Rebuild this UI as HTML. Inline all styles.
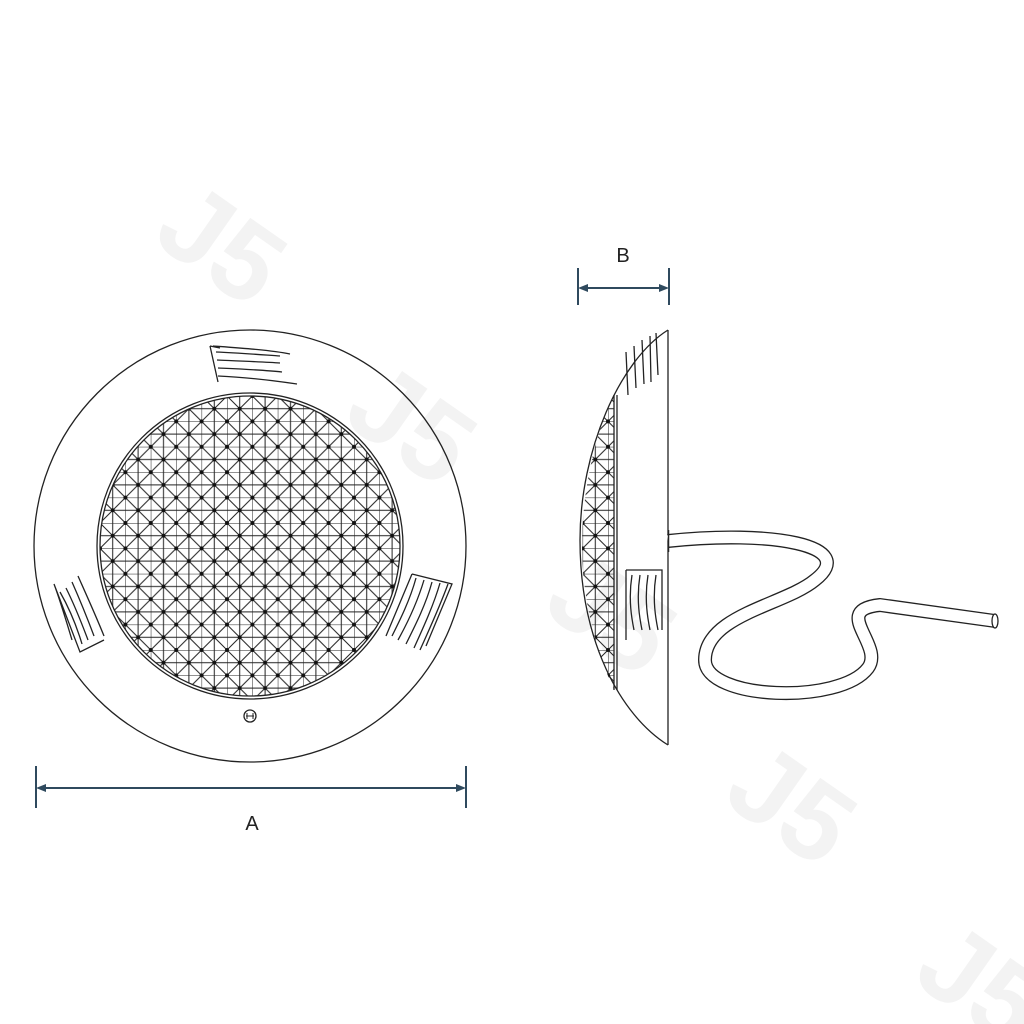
<!DOCTYPE html>
<html><head><style>body{margin:0;background:#fff}svg{display:block}</style></head><body>
<svg width="1024" height="1024" viewBox="0 0 1024 1024" xmlns="http://www.w3.org/2000/svg">
<defs>
<pattern id="g" x="100" y="396" width="25.4" height="25.4" patternUnits="userSpaceOnUse">
<path d="M0,0H25.4M0,12.7H25.4M0,0V25.4M12.7,0V25.4M0,0L25.4,25.4M25.4,0L0,25.4" stroke="#222" stroke-width="1" fill="none"/>
<circle cx="12.7" cy="12.7" r="2" fill="#111"/><circle cx="0" cy="0" r="2" fill="#111"/><circle cx="25.4" cy="0" r="2" fill="#111"/><circle cx="0" cy="25.4" r="2" fill="#111"/><circle cx="25.4" cy="25.4" r="2" fill="#111"/>
</pattern>
<clipPath id="sideclip"><path d="M614,395 C596,430 582,490 582,545 C582,600 596,650 614,690 Z"/></clipPath>
</defs>
<g fill="#f3f3f3" font-family="Liberation Sans, sans-serif" font-weight="bold" font-size="110">
<text x="150" y="240" transform="rotate(35 150 240)">J5</text>
<text x="340" y="420" transform="rotate(35 340 420)">J5</text>
<text x="540" y="610" transform="rotate(35 540 610)">J5</text>
<text x="720" y="800" transform="rotate(35 720 800)">J5</text>
<text x="910" y="980" transform="rotate(35 910 980)">J5</text>
</g>
<g fill="none" stroke="#222" stroke-width="1.3">
<circle cx="250" cy="546" r="216"/>
<circle cx="250" cy="546" r="150" fill="url(#g)"/>
<circle cx="250" cy="546" r="153"/>
<circle cx="250" cy="716" r="6"/>
<path d="M247,713v6M253,713v6M246,716h8" stroke-width="1"/>
<path d="M210,346 L218,382 M213,346 C240,348 270,350 290,354 M216,352 C240,353 265,355 280,356 M217,360 C240,361 265,362 280,363 M218,368 C240,369 265,370 282,372 M218,376 C240,377 270,380 297,384 M210,346 L220,348"/>
<path d="M54,584 L80,652 L104,640 M54,584 C60,600 66,620 72,640 M60,592 C68,606 76,624 82,644 M66,588 C74,604 82,624 88,640 M72,582 C80,600 88,620 94,636 M78,576 C86,594 96,616 104,636"/>
<path d="M412,574 L452,584 L426,646 M412,574 L386,636 M416,578 C410,600 400,620 392,636 M424,580 C418,600 408,622 398,640 M432,582 C426,604 416,624 406,644 M440,583 C434,604 424,626 414,648 M448,584 C440,606 430,628 420,650"/>
<path d="M668,330 V745"/>
<path d="M668,330 C620,360 580,450 580,540 C580,640 620,715 668,745"/>
<rect x="570" y="380" width="60" height="330" fill="url(#g)" clip-path="url(#sideclip)" stroke="none"/>
<path d="M614,395 V690 M617,395 V690"/>
<path d="M626,352 L628,395 M634,346 L636,388 M642,340 L644,384 M650,336 L651,382 M656,333 L658,375"/>
<path d="M626,570 L626,640 M626,570 H662 V630 M632,575 C628,600 632,620 634,630 M640,575 C636,600 640,620 642,630 M648,575 C644,600 648,620 650,630 M656,575 C652,600 656,620 658,630"/>
</g>
<path d="M668,541 C770,530 860,545 815,580 C785,605 705,615 705,660 C705,700 840,705 868,668 C885,645 830,610 880,605 L995,621" fill="none" stroke="#222" stroke-width="14"/>
<path d="M668,541 C770,530 860,545 815,580 C785,605 705,615 705,660 C705,700 840,705 868,668 C885,645 830,610 880,605 L995,621" fill="none" stroke="#fff" stroke-width="11.4"/>
<ellipse cx="995" cy="621" rx="3" ry="7" fill="#fff" stroke="#222" stroke-width="1.3"/>
<line x1="668.6" y1="530" x2="668.6" y2="552" stroke="#222" stroke-width="1.3"/>
<g stroke="#2f4a5e" stroke-width="2" fill="#2f4a5e">
<path d="M36,766V808M466,766V808M40,788H462" fill="none"/>
<path d="M36,788l10,-4v8zM466,788l-10,-4v8z" stroke="none"/>
<path d="M578,268V305M669,268V305M582,288H665" fill="none"/>
<path d="M578,288l10,-4v8zM669,288l-10,-4v8z" stroke="none"/>
</g>
<g font-family="Liberation Sans, sans-serif" font-size="20" fill="#222" text-anchor="middle">
<text x="252" y="830">A</text><text x="623" y="262">B</text>
</g>
</svg>
</body></html>
